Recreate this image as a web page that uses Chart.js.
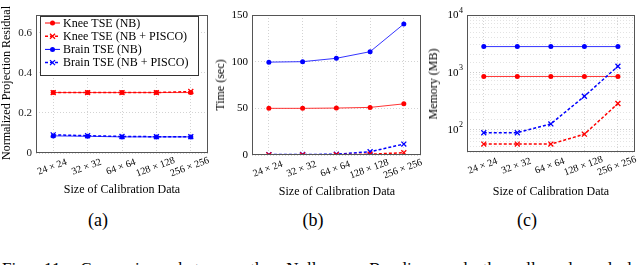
<!DOCTYPE html>
<html>
<head>
<meta charset="utf-8">
<script src="https://cdn.jsdelivr.net/npm/chart.js@4.4.1/dist/chart.umd.min.js"></script>
<style>
  html, body { margin:0; padding:0; background:#fff; }
  body { width:640px; height:265px; position:relative; overflow:hidden; font-family:'Liberation Serif', 'Times New Roman', 'DejaVu Serif', serif; color:#000; }
  canvas { position:absolute; top:0; }
  .t { position:absolute; white-space:nowrap; transform:translate(-50%,-50%); line-height:1; }
  .yt { position:absolute; white-space:nowrap; transform:translate(-50%,-50%) rotate(-90deg); font-size:12px; line-height:1; }
  .cap { position:absolute; left:2px; top:260px; width:630px; font-size:17px; line-height:1; text-align:justify; text-align-last:justify; white-space:nowrap; }
</style>
</head>
<body>
<canvas id="ca" width="214" height="200" style="left:0px"></canvas>
<canvas id="cb" width="214" height="200" style="left:212px"></canvas>
<canvas id="cc" width="214" height="200" style="left:426px"></canvas>

<div class="yt" style="left:220px; top:85px;">Time (sec)</div>
<div class="yt" style="left:433px; top:84px;">Memory (MB)</div>

<div class="t" style="left:122px; top:189px; font-size:12px;">Size of Calibration Data</div>
<div class="t" style="left:337px; top:191px; font-size:12px;">Size of Calibration Data</div>
<div class="t" style="left:551px; top:191px; font-size:12px;">Size of Calibration Data</div>

<div class="t" style="left:98px; top:220px; font-size:18px;">(a)</div>
<div class="t" style="left:313px; top:220px; font-size:18px;">(b)</div>
<div class="t" style="left:527px; top:220px; font-size:18px;">(c)</div>

<div class="cap">Fig. 11: Comparison between the Nullspace Baseline and the allowed and l</div>

<script>
// ---------- DATA ----------
const categories = ['24 × 24', '32 × 32', '64 × 64', '128 × 128', '256 × 256'];
const seriesNames = ['Knee TSE (NB)', 'Knee TSE (NB + PISCO)', 'Brain TSE (NB)', 'Brain TSE (NB + PISCO)'];

// (a) Normalized projection residual
const residKneeNB     = [0.300, 0.300, 0.300, 0.300, 0.300];
const residKneePISCO  = [0.300, 0.300, 0.300, 0.300, 0.305];
const residBrainNB    = [0.085, 0.083, 0.080, 0.080, 0.080];
const residBrainPISCO = [0.090, 0.086, 0.082, 0.081, 0.081];
const residTickValues = [0, 0.2, 0.4, 0.6];
const residTickLabels = ['0', '0.2', '0.4', '0.6'];

// (b) Time (sec)
const timeKneeNB     = [50.0, 50.0, 50.3, 51.0, 54.8];
const timeKneePISCO  = [0.2, 0.2, 0.3, 0.8, 2.5];
const timeBrainNB    = [99.5, 100.0, 103.6, 110.7, 140.4];
const timeBrainPISCO = [0.4, 0.5, 0.8, 3.5, 11.7];

// (c) Memory (MB), log scale
const memKneeNB     = [840, 840, 840, 840, 840];
const memKneePISCO  = [55, 55, 55, 82, 282];
const memBrainNB    = [2800, 2800, 2800, 2800, 2800];
const memBrainPISCO = [87, 87, 124, 378, 1270];
const memTickPowers = [2, 3, 4];

// ---------- STYLES ----------
const SERIF = "'Liberation Serif', 'Times New Roman', 'DejaVu Serif', serif";
const RED = '#ff0000', BLUE = '#0000ff';
function nb(label, data, color) {
  return { label, data, borderColor: color, backgroundColor: color, borderWidth: 0.8,
    pointStyle: 'circle', pointRadius: 2.5, pointBackgroundColor: color, pointBorderWidth: 0, tension: 0, order: 2 };
}
function pisco(label, data, color) {
  return { label, data, borderColor: color, backgroundColor: color, borderWidth: 1.5, borderDash: [3, 2],
    pointStyle: 'crossRot', pointRadius: 3.5, pointBorderColor: color, pointBorderWidth: 1.3, tension: 0, order: 1 };
}

const framePlugin = {
  id: 'frameAndLabels',
  afterDraw(chart) {
    const ctx = chart.ctx, a = chart.chartArea, xs = chart.scales.x, ys = chart.scales.y;
    ctx.save();
    ctx.strokeStyle = '#555'; ctx.lineWidth = 1; ctx.setLineDash([]);
    ctx.strokeRect(Math.round(a.left) + 0.5, Math.round(a.top) + 0.5, Math.round(a.right - a.left) - 1, Math.round(a.bottom - a.top) - 1);
    ctx.fillStyle = '#000';
    ctx.font = '10px ' + SERIF;
    ctx.textAlign = 'center'; ctx.textBaseline = 'middle';
    chart.data.labels.forEach((lab, i) => {
      const x = xs.getPixelForValue(i);
      ctx.save(); ctx.translate(x - 1, a.bottom + 14); ctx.rotate(-20 * Math.PI / 180);
      ctx.fillText(lab, 0, 0); ctx.restore();
    });

    // numeric y labels drawn at the chart's y-scale positions
    const yl = chart.options.plugins.numLabels;
    if (yl && yl.show) {
      ctx.fillStyle = '#1a1a1a';
      ctx.font = '11px ' + SERIF;
      ctx.textAlign = 'right'; ctx.textBaseline = 'middle';
      residTickValues.forEach((v, i) => {
        ctx.fillText(residTickLabels[i], a.left - 4, ys.getPixelForValue(v) + 0.5);
      });
      // rotated y title (not squeezed)
      ctx.save();
      ctx.translate(7, (a.top + a.bottom) / 2 - 1);
      ctx.rotate(-Math.PI / 2);
      ctx.font = '12px ' + SERIF;
      ctx.textAlign = 'center'; ctx.textBaseline = 'middle';
      ctx.fillStyle = '#000';
      ctx.fillText('Normalized Projection Residual', 0, 0);
      ctx.restore();
    }

    const pw = chart.options.plugins.powLabels;
    if (pw && pw.show) {
      memTickPowers.forEach(p => {
        const y = ys.getPixelForValue(Math.pow(10, p));
        const xr = a.left - 4;
        ctx.fillStyle = '#000';
        ctx.font = '8px ' + SERIF; ctx.textAlign = 'right'; ctx.textBaseline = 'middle';
        const sw = ctx.measureText(String(p)).width;
        ctx.fillText(String(p), xr, y - 4.5);
        ctx.font = '11px ' + SERIF;
        ctx.fillText('10', xr - sw - 0.5, y + 0.5);
      });
    }
    ctx.restore();

    const lg = chart.options.plugins.boxLegend;
    if (lg && lg.show) {
      ctx.save();
      const bx = 40, by = 16, bw = 158, bh = 59;
      ctx.fillStyle = '#fff'; ctx.fillRect(bx, by, bw, bh);
      ctx.strokeStyle = '#333'; ctx.lineWidth = 1; ctx.strokeRect(bx + 0.5, by + 0.5, bw, bh);
      ctx.font = '12px ' + SERIF; ctx.textAlign = 'left'; ctx.textBaseline = 'middle';
      chart.data.datasets.forEach((ds, i) => {
        const y = 23 + i * 13.2;
        ctx.strokeStyle = ds.borderColor; ctx.lineWidth = Math.max(ds.borderWidth, 1);
        ctx.setLineDash(ds.borderDash || []);
        ctx.beginPath(); ctx.moveTo(45, y); ctx.lineTo(60, y); ctx.stroke();
        ctx.setLineDash([]);
        if (ds.pointStyle === 'circle') {
          ctx.fillStyle = ds.borderColor; ctx.beginPath(); ctx.arc(52.5, y, 2.5, 0, Math.PI * 2); ctx.fill();
        } else {
          ctx.lineWidth = 1.3; const r = 2.5;
          ctx.beginPath(); ctx.moveTo(52.5 - r, y - r); ctx.lineTo(52.5 + r, y + r);
          ctx.moveTo(52.5 - r, y + r); ctx.lineTo(52.5 + r, y - r); ctx.stroke();
        }
        ctx.fillStyle = '#000'; ctx.fillText(ds.label, 63, y + 0.5);
      });
      ctx.restore();
    }
  }
};

function baseOptions(padRight, yAxisWidth, xAxisHeight, yScale, extraPlugins) {
  return {
    responsive: false, animation: false, devicePixelRatio: 1,
    layout: { padding: { top: 15, right: padRight, left: 0, bottom: 0 } },
    plugins: Object.assign({ legend: { display: false }, tooltip: { enabled: false } }, extraPlugins),
    scales: {
      x: { type: 'category', offset: true,
        grid: { offset: false, color: '#c8c8c8', lineWidth: 0.8, drawTicks: false },
        border: { display: false, dash: [1, 2] }, ticks: { display: false },
        afterFit: s => { s.height = xAxisHeight; } },
      y: Object.assign({
        grid: { color: '#c8c8c8', lineWidth: 0.8, drawTicks: false },
        border: { display: false, dash: [1, 2] },
        afterFit: s => { s.width = yAxisWidth; } }, yScale)
    }
  };
}
const tickFont = { family: SERIF, size: 11 };

// (a)
new Chart(document.getElementById('ca'), {
  type: 'line',
  data: { labels: categories, datasets: [
    nb(seriesNames[0], residKneeNB, RED), pisco(seriesNames[1], residKneePISCO, RED),
    nb(seriesNames[2], residBrainNB, BLUE), pisco(seriesNames[3], residBrainPISCO, BLUE)] },
  options: baseOptions(6, 36, 47, {
    type: 'linear', min: 0, max: 0.685,
    ticks: { stepSize: 0.2, includeBounds: false, color: '#000', font: tickFont, padding: 4, callback: () => '' }
  }, { boxLegend: { show: true }, numLabels: { show: true } }),
  plugins: [framePlugin]
});

// (b)
new Chart(document.getElementById('cb'), {
  type: 'line',
  data: { labels: categories, datasets: [
    nb(seriesNames[0], timeKneeNB, RED), pisco(seriesNames[1], timeKneePISCO, RED),
    nb(seriesNames[2], timeBrainNB, BLUE), pisco(seriesNames[3], timeBrainPISCO, BLUE)] },
  options: baseOptions(4, 40, 45, { type: 'linear', min: 0, max: 150,
    ticks: { stepSize: 50, color: '#000', font: tickFont, padding: 4 } }, {}),
  plugins: [framePlugin]
});

// (c)
function isPow10(v) { const l = Math.log10(v); return Math.abs(l - Math.round(l)) < 1e-9; }
const oc = baseOptions(5, 41, 48, { type: 'logarithmic', min: 40, max: 10000,
  ticks: { autoSkip: false, color: '#000', font: tickFont, padding: 4, callback: () => '' } },
  { powLabels: { show: true } });
oc.scales.y.grid.color = c => (c.tick && isPow10(c.tick.value)) ? '#bdbdbd' : '#dcdcdc';
new Chart(document.getElementById('cc'), {
  type: 'line',
  data: { labels: categories, datasets: [
    nb(seriesNames[0], memKneeNB, RED), pisco(seriesNames[1], memKneePISCO, RED),
    nb(seriesNames[2], memBrainNB, BLUE), pisco(seriesNames[3], memBrainPISCO, BLUE)] },
  options: oc,
  plugins: [framePlugin]
});
</script>
</body>
</html>
